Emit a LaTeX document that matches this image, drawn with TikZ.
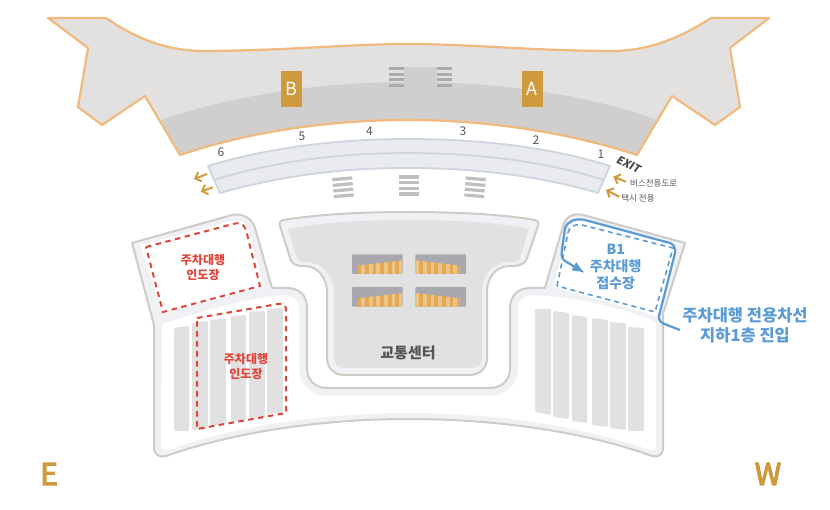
\documentclass[tikz,border=0pt]{standalone}
\usepackage{fontspec}
\usetikzlibrary{arrows.meta}
\setmainfont{Noto Sans CJK KR}
\newfontfamily\medfont[FakeBold=4]{Noto Sans CJK KR}
\definecolor{termfill}{HTML}{E2E1DF}
\definecolor{termdark}{HTML}{D0CFCE}
\definecolor{termline}{HTML}{F0B97E}
\definecolor{roadfill}{HTML}{E9EBEE}
\definecolor{roadline}{HTML}{CFD5DC}
\definecolor{gold}{HTML}{CF9A3E}
\definecolor{ring}{HTML}{EFF1F5}
\definecolor{ringline}{HTML}{CFCBC8}
\definecolor{stall}{HTML}{E1E1E1}
\definecolor{redd}{HTML}{E0453A}
\definecolor{bluee}{HTML}{5B9BD5}
\definecolor{darktext}{HTML}{555555}
\definecolor{boxgrey}{HTML}{A9A8AE}
\definecolor{orA}{HTML}{E5A955}
\definecolor{orB}{HTML}{EDC488}
\tikzset{
  stallshape/.style={fill=stall,rounded corners=1.2},
  redbox/.style={draw=redd,line width=2,dash pattern=on 5.5pt off 4.5pt},
  bluebox/.style={draw=bluee,line width=1.6,dash pattern=on 5pt off 4pt},
  goldarrow/.style={draw=gold,line width=2,-{Straight Barb[length=5,width=10]}},
  gatebox/.style={fill=gold,text=white,minimum width=21,minimum height=36,inner sep=0,font=\fontsize{18}{18}\selectfont},
  gatenum/.style={text=darktext,inner sep=0,font=\fontsize{12}{12}\selectfont},
  redlabel/.style={text=redd,inner sep=0,align=center,font=\fontsize{12}{15}\selectfont\bfseries},
  bluelabel/.style={text=bluee,inner sep=0,align=center,font=\fontsize{14}{17.2}\selectfont\bfseries},
  smalllabel/.style={text=darktext,inner sep=0,font=\fontsize{8.5}{8.5}\selectfont},
  compass/.style={text=gold,inner sep=0,font=\fontsize{30}{30}\selectfont\medfont},
}
\newcommand{\stairbars}[2]{%
  \foreach \yy in {0,5.7,11.3,17}{\fill[#1] (-#2,\yy-1.6) rectangle (#2,\yy+1.6);}}
\newcommand{\parkbox}[2]{%
  \begin{scope}[shift={(#1,#2)}]
  \fill[boxgrey,rounded corners=1] (0,0) rectangle (50.7,19.7);
  \clip (5.3,11.4) -- (50.7,6) -- (50.7,19.7) -- (5.3,19.7) -- cycle;
  \foreach \i in {0,...,11}{
    \pgfmathsetmacro{\xa}{5.3+\i*3.8}
    \ifodd\i \fill[orB] (\xa,0) rectangle ++(3.8,20);
    \else \fill[orA] (\xa,0) rectangle ++(3.8,20);\fi}
  \end{scope}}
\newcommand{\parkboxR}[2]{%
  \begin{scope}[shift={(#1,#2)}]
  \fill[boxgrey,rounded corners=1] (0,0) rectangle (50.7,19.7);
  \clip (0,6) -- (45.4,11.4) -- (45.4,19.7) -- (0,19.7) -- cycle;
  \foreach \i in {0,...,11}{
    \pgfmathsetmacro{\xa}{\i*3.8}
    \ifodd\i \fill[orA] (\xa,0) rectangle ++(3.8,20);
    \else \fill[orB] (\xa,0) rectangle ++(3.8,20);\fi}
  \end{scope}}
\begin{document}
\begin{tikzpicture}[x=1pt,y=-1pt]
\useasboundingbox (0,0) rectangle (830,510);
% terminal
\fill[termfill] (48,18) -- (106,18) .. controls (135,38) and (165,50) .. (200,51) .. controls (280,51) and (350,44) .. (408,44) .. controls (470,44) and (535,51) .. (615,51) .. controls (650,50) and (680,38) .. (711,18) -- (769,18) -- (730,48) -- (740,107) -- (715,125) -- (672,96) -- (637,155) .. controls (570,133) and (490,120) .. (408,120) .. controls (325,120) and (245,133) .. (180,155) -- (145,96) -- (102,125) -- (78,107) -- (88,48) -- cycle;
\fill[termdark] (161,120) .. controls (235,95) and (320,82) .. (408,82) .. controls (500,82) and (590,95) .. (657,120) -- (637,155) .. controls (570,133) and (490,120) .. (408,120) .. controls (325,120) and (245,133) .. (180,155) -- cycle;
\fill[termdark] (403.7,67) rectangle (437.3,90);
\draw[termline,line width=2.2,line join=round] (48,18) -- (106,18) .. controls (135,38) and (165,50) .. (200,51) .. controls (280,51) and (350,44) .. (408,44) .. controls (470,44) and (535,51) .. (615,51) .. controls (650,50) and (680,38) .. (711,18) -- (769,18) -- (730,48) -- (740,107) -- (715,125) -- (672,96) -- (637,155) .. controls (570,133) and (490,120) .. (408,120) .. controls (325,120) and (245,133) .. (180,155) -- (145,96) -- (102,125) -- (78,107) -- (88,48) -- cycle;
\begin{scope}[shift={(396.3,68.6)}]\stairbars{black!33}{7.4}\end{scope}
\begin{scope}[shift={(444.7,68.6)}]\stairbars{black!33}{7.4}\end{scope}
\node[gatebox] (gateB) at (291.8,88.8) {B};
\node[gatebox] (gateA) at (532.2,88.8) {A};
% road
\draw[roadline,fill=roadfill,line width=1.8,line join=round] (208,166) .. controls (270,147) and (340,139) .. (408,139) .. controls (480,139) and (550,147) .. (610,166) -- (598,193) .. controls (540,176) and (475,168) .. (408,168) .. controls (340,168) and (280,176) .. (220,193) -- cycle;
\draw[roadline,line width=1.8] (214,180) .. controls (275,161) and (340,153) .. (408,153) .. controls (475,153) and (545,161) .. (604,180);
\node[gatenum] (g6) at (221,152) {6};
\node[gatenum] (g5) at (302,136.5) {5};
\node[gatenum] (g4) at (369.5,131.5) {4};
\node[gatenum] (g3) at (463,131.5) {3};
\node[gatenum] (g2) at (536,140) {2};
\node[gatenum] (g1) at (601,154.5) {1};
\node[text=darktext!85!black,inner sep=0,rotate=-27,font=\fontsize{11}{11}\selectfont\bfseries\addfontfeature{FakeSlant=0.15}] (exit) at (628.5,164.5) {EXIT};
\node[smalllabel] (bus) at (653.7,183.7) {버스전용도로};
\node[smalllabel] (taxi) at (638,198) {택시 전용};
\coordinate (ra1) at (626,181.7); \coordinate (ra1t) at (613.3,176.7);
\coordinate (ra2) at (619.3,196.7); \coordinate (ra2t) at (606,190);
\coordinate (la1) at (207,174); \coordinate (la1t) at (194,179);
\coordinate (la2) at (212.7,187.3); \coordinate (la2t) at (200.7,191.7);
\draw[goldarrow] (ra1) -- (ra1t);
\draw[goldarrow] (ra2) -- (ra2t);
\draw[goldarrow] (la1) -- (la1t);
\draw[goldarrow] (la2) -- (la2t);
% stairs below road
\begin{scope}[shift={(343,178.8)},rotate around={5:(0,8.5)}]\stairbars{black!25}{10}\end{scope}
\begin{scope}[shift={(409,177)}]\stairbars{black!25}{10}\end{scope}
\begin{scope}[shift={(475,178.8)},rotate around={-5:(0,8.5)}]\stairbars{black!25}{10}\end{scope}
% parking shape
\draw[ringline,fill=ring,line width=2,line join=round] (132,243) -- (230,215.5) .. controls (242,212) and (252,218) .. (255,228) -- (272,288) -- (287,288) .. controls (300,288) and (307,296) .. (307,308) -- (307,368) .. controls (307,380) and (315,388) .. (327,388) -- (490,388) .. controls (502,388) and (510,380) .. (510,368) -- (510,308) .. controls (510,296) and (518,288) .. (530,288) -- (545,288) -- (563,226) .. controls (566,216) and (574,212) .. (585,215.5) -- (685,243) -- (663,314) -- (663,447) .. controls (663,455) and (658,458) .. (652,456) .. controls (580,430) and (490,419) .. (408,419) .. controls (330,419) and (240,430) .. (166,456) .. controls (160,458) and (154,455) .. (154,447) -- (154,325) -- cycle;
\fill[white] (162,324) .. controls (200,312) and (240,300) .. (283,295) .. controls (292,295) and (299,300) .. (299,308) -- (299,368) .. controls (299,385) and (312,396) .. (327,396) -- (490,396) .. controls (505,396) and (518,385) .. (518,368) -- (518,308) .. controls (518,300) and (524,295) .. (532,295) .. controls (575,297) and (620,307) .. (656,322) -- (656,445) .. controls (656,449) and (654,451) .. (650,450) .. controls (575,424) and (490,413) .. (408,413) .. controls (330,413) and (240,424) .. (168,450) .. controls (164,451) and (161,449) .. (161,445) -- cycle;
\fill[white] (140,245) -- (231,221) .. controls (240,219) and (247,223) .. (249,231) -- (264,287) -- (163,313) -- cycle;
\fill[white] (553,287) -- (569,229) .. controls (571,222) and (577,219) .. (585,221) -- (678,247) -- (657,316) -- cycle;
% stalls left
\fill[stallshape] (174,328) -- (189,326) -- (189,431) -- (174,431) -- cycle;
\fill[stallshape] (192,323) -- (208,321) -- (208,429) -- (192,430) -- cycle;
\fill[stallshape] (210,320) -- (226,318) -- (226,424) -- (210,426) -- cycle;
\fill[stallshape] (231,316) -- (246,315) -- (246,420) -- (231,422) -- cycle;
\fill[stallshape] (249,312) -- (265,311) -- (265,417) -- (249,418) -- cycle;
\fill[stallshape] (267,309) -- (283,308) -- (283,412) -- (267,414) -- cycle;
% stalls right
\fill[stallshape] (535,309) -- (551,309) -- (551,415) -- (535,412) -- cycle;
\fill[stallshape] (553,311) -- (569,313) -- (569,419) -- (553,417) -- cycle;
\fill[stallshape] (572,315) -- (587,317) -- (587,423) -- (572,421) -- cycle;
\fill[stallshape] (592,318) -- (608,320) -- (608,427) -- (592,425) -- cycle;
\fill[stallshape] (610,322) -- (626,323) -- (626,430) -- (610,428) -- cycle;
\fill[stallshape] (628,327) -- (644,328) -- (644,431) -- (628,431) -- cycle;
% centre building
\draw[ringline,fill=ring,line width=2] (283,220) .. controls (320,214) and (365,212) .. (408,212) .. controls (455,212) and (500,214) .. (535,220) .. controls (538,221) and (539,223) .. (538,226) -- (527,258) .. controls (525,265) and (518,266) .. (510,266) .. controls (495,266) and (487,278) .. (487,292) -- (487,358) .. controls (487,368) and (480,375) .. (470,375) -- (344,375) .. controls (334,375) and (327,368) .. (327,358) -- (327,292) .. controls (327,278) and (318,266) .. (304,266) .. controls (297,266) and (292,265) .. (290,258) -- (280,226) .. controls (279,223) and (280,221) .. (283,220) -- cycle;
\fill[stall!90!termfill] (288,229) .. controls (325,222) and (365,220) .. (408,220) .. controls (455,220) and (495,222) .. (529,229) -- (520,258) .. controls (519,261) and (515,262) .. (510,262) .. controls (492,262) and (482,276) .. (482,292) -- (482,358) .. controls (482,364) and (478,368) .. (472,368) -- (344,368) .. controls (338,368) and (334,364) .. (334,358) -- (334,292) .. controls (334,276) and (322,262) .. (306,262) .. controls (301,262) and (298,261) .. (297,258) -- cycle;
\parkbox{352}{254.3}
\parkboxR{415.3}{254.3}
\parkbox{352}{287}
\parkboxR{415.3}{287}
\node[text=darktext,inner sep=0,font=\fontsize{15}{15}\selectfont\bfseries] (tc) at (408,353) {교통센터};
% red zones
\draw[redbox] (146,247) -- (233,224) .. controls (240,222) and (244,224) .. (246,230) -- (260,286) -- (163,312) -- cycle;
\draw[redbox] (197,318) -- (278,304) .. controls (283,303) and (286,305) .. (286,310) -- (286,413) -- (197,429) -- cycle;
\node[redlabel] (rl1) at (203,268) {주차대행\\인도장};
\node[redlabel] (rl2) at (246,367) {주차대행\\인도장};
% blue zone
\draw[bluebox] (557,286) -- (568,233) .. controls (570,226) and (574,224) .. (582,225) -- (673,248) -- (655,312) -- cycle;
\coordinate (bs) at (680,330);
\coordinate (bt) at (585,273);
\draw[bluee,line width=2.2,line join=round,-{Latex[length=13,width=10]}] (bs) -- (667,325) .. controls (661,323) and (658,320) .. (659,316) -- (675,253) .. controls (676,248) and (674,245) .. (670,243) -- (585,220) .. controls (575,218) and (568,221) .. (565,228) -- (562,250) .. controls (561,256) and (562,259) .. (565,261) -- (bt);
\node[bluelabel] (bl) at (615.7,267) {B1\\주차대행\\접수장};
\node[text=bluee,inner sep=0,align=center,font=\fontsize{16.5}{20}\selectfont\bfseries] (bl2) at (745,325.7) {주차대행 전용차선\\지하1층 진입};
% compass
\node[compass] (E) at (49,474) {E};
\node[compass] (W) at (768,474) {W};
\end{tikzpicture}
\end{document}
